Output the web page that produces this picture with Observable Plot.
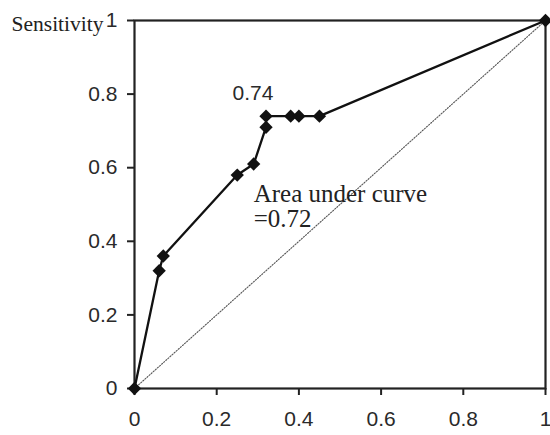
<!DOCTYPE html>
<html><head><meta charset="utf-8">
<script src="https://cdn.jsdelivr.net/npm/d3@7"></script>
<script src="https://cdn.jsdelivr.net/npm/@observablehq/plot@0.6"></script>
<style>body{margin:0;background:#fff}</style>
</head><body><div id="chart"></div>
<script>
// ROC curve points (1 - specificity, sensitivity)
const fpr = [0, 0.06, 0.07, 0.25, 0.29, 0.32, 0.32, 0.38, 0.40, 0.45, 1];
const sensitivity = [0, 0.32, 0.36, 0.58, 0.61, 0.71, 0.74, 0.74, 0.74, 0.74, 1];
// chance diagonal
const chanceX = [0, 1];
const chanceY = [0, 1];
// ticks
const tickValues = [0, 0.2, 0.4, 0.6, 0.8, 1];
const tickLabels = ["0", "0.2", "0.4", "0.6", "0.8", "1"];
// texts
const yAxisTitle = "Sensitivity";
const peakX = [0.32], peakY = [0.74], peakText = ["0.74"];
const aucX = [0.29], aucY = [0.554], aucText = ["Area under curve\n=0.72"];

const rows = fpr.map((x, i) => ({x, y: sensitivity[i]}));
const diag = chanceX.map((x, i) => ({x, y: chanceY[i]}));
const fmt = d => tickLabels[tickValues.indexOf(d)];

const chart = Plot.plot({
  width: 550, height: 435,
  marginLeft: 134, marginRight: 5, marginTop: 20, marginBottom: 47,
  x: {domain: [0, 1]},
  y: {domain: [0, 1]},
  style: {fontFamily: "'Liberation Sans', Arial, sans-serif", fontSize: "20px", color: "#333", background: "#fff"},
  marks: [
    Plot.line(diag, {x: "x", y: "y", stroke: "#555", strokeWidth: 1.1, strokeDasharray: "1.2,1.6"}),
    Plot.frame({stroke: "#222", strokeWidth: 2.2}),
    Plot.axisX({ticks: tickValues, tickFormat: fmt, tickSize: 7, tickPadding: 16, strokeWidth: 2, stroke: "#222", fill: "#2a2a2a", fontSize: 21, label: null}),
    Plot.axisY({ticks: tickValues, tickFormat: fmt, tickSize: 7, tickPadding: 10, strokeWidth: 2, stroke: "#222", fill: "#2a2a2a", fontSize: 21, label: null}),
    Plot.line(rows, {x: "x", y: "y", stroke: "#111", strokeWidth: 2.3}),
    Plot.dot(rows, {x: "x", y: "y", symbol: "diamond2", r: 6, fill: "#111", stroke: "none"}),
    Plot.text(peakText, {x: (d, i) => peakX[i], y: (d, i) => peakY[i], text: d => d, dx: -13, dy: -16, lineAnchor: "bottom", textAnchor: "middle", fontSize: 21, fill: "#2a2a2a"}),
    Plot.text(aucText, {x: (d, i) => aucX[i], y: (d, i) => aucY[i], text: d => d, textAnchor: "start", lineAnchor: "top", lineHeight: 1.0, fontSize: 25, fontFamily: "'Liberation Serif', 'Times New Roman', serif", fill: "#222"}),
    Plot.text([yAxisTitle], {x: () => 0, y: () => 1, text: d => d, dx: -31, dy: 10, textAnchor: "end", lineAnchor: "bottom", fontSize: 21.5, fontFamily: "'Liberation Serif', 'Times New Roman', serif", fill: "#222"})
  ]
});
document.getElementById("chart").appendChild(chart);
</script>
</body></html>
